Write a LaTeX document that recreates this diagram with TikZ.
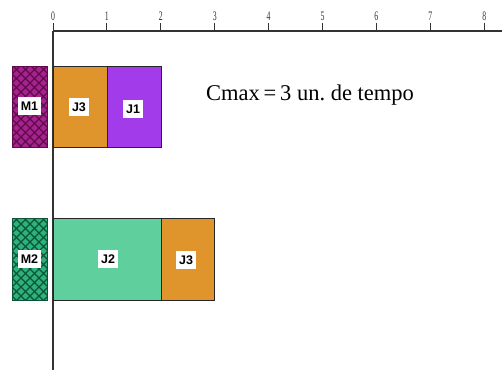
\documentclass[tikz,border=0pt]{standalone}
\usepackage{fontspec}
\setmainfont{Liberation Serif}
\newfontfamily\labelfont{Liberation Sans}
\definecolor{mOneFill}{HTML}{A8228E}
\definecolor{mOneLine}{HTML}{5E0A4C}
\definecolor{mTwoFill}{HTML}{2DB27E}
\definecolor{mTwoLine}{HTML}{0C5436}
\definecolor{jobThree}{HTML}{E0952C}
\definecolor{jobOne}{HTML}{A23CEA}
\definecolor{jobTwo}{HTML}{5FCF9E}
\frenchspacing
\begin{document}
\begin{tikzpicture}[x=1pt,y=-1pt,
  axisline/.style={line width=1.2pt,black!80},
  tickmark/.style={line width=1pt,black!80},
  ticklabel/.style={font=\fontsize{13}{14}\selectfont,inner sep=0pt,xscale=0.6,transform shape,text=black!80},
  jobbox/.style={draw=black!85,line width=1pt},
  tag/.style={fill=white,inner xsep=3pt,inner ysep=5pt,font=\labelfont\bfseries\fontsize{12.5}{13}\selectfont}]
\useasboundingbox (0,0) rectangle (502,370);
% time axis
\draw[axisline] (53,31) -- (502,31);
\draw[axisline] (53,31) -- (53,370);
\foreach \i in {0,...,8}{
  \draw[tickmark] ({53+53.9*\i},31) -- ({53+53.9*\i},23);
  \node[ticklabel] (t\i) at ({53+53.9*\i},16) {\i};
}
% machine M1 (cross-hatched)
\begin{scope}
  \clip (12,66) rectangle (47,147);
  \fill[mOneFill] (12,66) rectangle (47,147);
  \foreach \k in {-120,-111,...,160}{
    \draw[mOneLine,line width=1.1pt] (\k,50) -- ({\k+120},170);
    \draw[mOneLine,line width=1.1pt] (\k,170) -- ({\k+120},50);
  }
\end{scope}
\draw[mOneLine,line width=0.8pt] (12,66) rectangle (47,147);
\node[tag] (m1) at (29.5,106) {M1};
% machine M2 (cross-hatched)
\begin{scope}
  \clip (12,218) rectangle (47,300);
  \fill[mTwoFill] (12,218) rectangle (47,300);
  \foreach \k in {-120,-111,...,160}{
    \draw[mTwoLine,line width=1.1pt] (\k,200) -- ({\k+120},320);
    \draw[mTwoLine,line width=1.1pt] (\k,320) -- ({\k+120},200);
  }
\end{scope}
\draw[mTwoLine,line width=0.8pt] (12,218) rectangle (47,300);
\node[tag] (m2) at (29.5,259) {M2};
% jobs on M1
\draw[jobbox,fill=jobThree] (53,66) rectangle (107,147);
\node[tag] (a3) at (79,107) {J3};
\draw[jobbox,fill=jobOne] (107,66) rectangle (161,147);
\node[tag] (a1) at (133,109) {J1};
% jobs on M2
\draw[jobbox,fill=jobTwo] (53,218) rectangle (161,300);
\node[tag] (b2) at (108,259) {J2};
\draw[jobbox,fill=jobThree] (161,218) rectangle (214,300);
\node[tag] (b3) at (186,260) {J3};
% makespan
\node[font=\fontsize{22.5}{25}\selectfont,anchor=west,inner sep=0pt] (cmax) at (206,95) {Cmax\,=\,3 un. de tempo};
\end{tikzpicture}
\end{document}
